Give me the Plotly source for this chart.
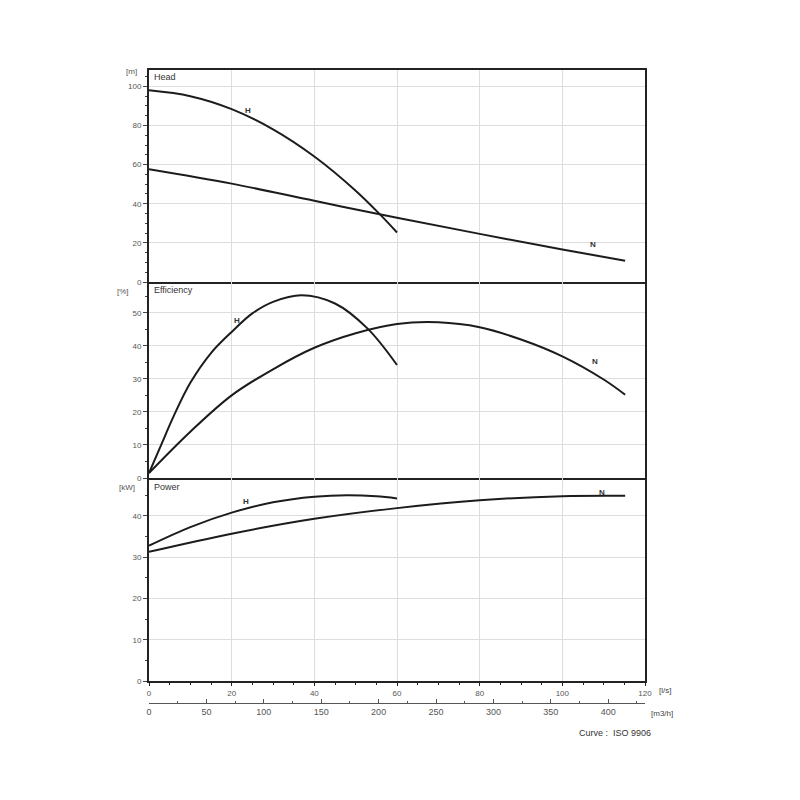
import plotly.graph_objects as go

# ---------------- data (flow in l/s) ----------------
head_H_q = [0, 10, 20, 30, 40, 50, 56, 60]
head_H_v = [98, 95.0, 88.4, 78.1, 64.2, 46.7, 34.3, 25.3]
head_N_q = [0, 20, 40, 60, 80, 100, 115.2]
head_N_v = [57.7, 50.3, 41.5, 32.8, 24.6, 16.6, 10.9]

eff_H_q = [0, 3, 6, 10, 15, 20, 25, 30, 36.9, 45, 52.9, 60]
eff_H_v = [1.5, 10.2, 18.8, 28.8, 37.8, 44.2, 49.8, 53.3, 55.3, 52.8, 45.2, 34.2]
eff_N_q = [0, 10, 20, 30, 40, 50, 60, 70, 80, 90, 100, 110, 115.2]
eff_N_v = [1.5, 14.0, 25.0, 32.9, 39.4, 43.8, 46.6, 47.1, 45.6, 41.9, 36.8, 29.8, 25.2]

pow_H_q = [0, 10, 20, 30, 40, 48, 55, 60]
pow_H_v = [32.8, 37.3, 40.8, 43.3, 44.65, 45.0, 44.75, 44.25]
pow_N_q = [0, 20, 40, 60, 80, 100, 115.2]
pow_N_v = [31.3, 35.7, 39.3, 41.9, 43.8, 44.8, 44.9]

panel_titles = ["Head", "Efficiency", "Power"]
unit_labels = ["[m]", "[%]", "[kW]"]
curve_names = ["H", "N"]

# label anchor points (l/s, value)
label_H = [(24, 87.5), (21.3, 47.8), (23.5, 43.4)]
label_N = [(107.4, 19.2), (108, 35.3), (109.5, 45.8)]

LS_TO_M3H = 3.6
q_max = 120

# ---------------- figure ----------------
line_style = dict(color="#1c1c1c", width=2)
fig = go.Figure()

series = [
    (head_H_q, head_H_v, "x", "y"), (head_N_q, head_N_v, "x", "y"),
    (eff_H_q, eff_H_v, "x2", "y2"), (eff_N_q, eff_N_v, "x2", "y2"),
    (pow_H_q, pow_H_v, "x3", "y3"), (pow_N_q, pow_N_v, "x3", "y3"),
]
for q, v, xa, ya in series:
    fig.add_trace(go.Scatter(x=q, y=v, xaxis=xa, yaxis=ya, mode="lines",
                             line=dict(shape="spline", smoothing=1.0, **line_style),
                             hoverinfo="skip", showlegend=False))

# invisible trace so the m3/h axis is created
fig.add_trace(go.Scatter(x=[q * LS_TO_M3H for q in pow_N_q], y=pow_N_v,
                         xaxis="x4", yaxis="y3", mode="lines", opacity=0,
                         hoverinfo="skip", showlegend=False))

# pixel geometry (window coords) -> figure coords (page body margin 8px)
OFF = 8
top_px, bot_px = 70, 703
H = bot_px - top_px
def py(px):
    return (bot_px - px) / H
L, R = 149, 645
W = R - L
def px_(x):
    return (x - L) / W

dom_head = [py(282), 1.0]
dom_eff = [py(478), py(282)]
dom_pow = [py(681), py(478)]

tickfont = dict(family="Liberation Sans, Arial, sans-serif", size=8, color="#555")
grid = "#dedede"

def xax(anchor, labels, mirror):
    return dict(domain=[0, 1], anchor=anchor, range=[0, q_max], dtick=20,
                showgrid=True, gridcolor=grid, gridwidth=1, zeroline=False,
                showline=True, linecolor="#222", linewidth=2, mirror=mirror,
                showticklabels=labels, ticks="outside" if labels else "",
                ticklen=3, tickcolor="#222", tickfont=tickfont,
                minor=dict(dtick=5, ticks="outside" if labels else "", ticklen=2,
                           tickcolor="#222", showgrid=False))

def yax(anchor, dom, rng, dtick):
    return dict(domain=dom, anchor=anchor, range=rng, dtick=dtick,
                showgrid=True, gridcolor=grid, gridwidth=1, zeroline=False,
                showline=True, linecolor="#222", linewidth=2, mirror=True,
                ticks="outside", ticklen=4, tickcolor="#444", tickfont=tickfont,
                minor=dict(dtick=5, ticks="outside", ticklen=2, tickcolor="#444",
                           showgrid=False))

fig.update_layout(
    width=800, height=800,
    margin=dict(l=L - OFF, r=800 - (R - OFF), t=top_px - OFF, b=800 - (bot_px - OFF), pad=0),
    paper_bgcolor="white", plot_bgcolor="white",
    font=dict(family="Liberation Sans, Arial, sans-serif", color="#333"),
    xaxis=xax("y", False, True),
    xaxis2=xax("y2", False, False),
    xaxis3=xax("y3", True, False),
    xaxis4=dict(overlaying="x3", anchor="free", position=0, side="bottom",
                range=[0, q_max * LS_TO_M3H], dtick=50, showgrid=False,
                zeroline=False, showline=True, linecolor="#555", linewidth=1,
                ticks="inside", ticklen=4, tickcolor="#555",
                tickfont=dict(family="Liberation Sans, Arial, sans-serif", size=9, color="#555"),
                minor=dict(dtick=25, ticks="inside", ticklen=2, tickcolor="#555")),
    yaxis=yax("x", dom_head, [0, 108.4], 20),
    yaxis2=yax("x2", dom_eff, [0, 59.3], 10),
    yaxis3=yax("x3", dom_pow, [0, 49.2], 10),
)

ann = []
title_y = [py(77), py(290), py(487)]
for t, y in zip(panel_titles, title_y):
    ann.append(dict(text=t, xref="paper", yref="paper", x=px_(152), y=y,
                    xanchor="left", yanchor="middle", showarrow=False,
                    font=dict(size=9, color="#333")))
unit_pos = [(131, 71), (123, 291), (127, 487)]
for t, (ux, uy) in zip(unit_labels, unit_pos):
    ann.append(dict(text=t, xref="paper", yref="paper", x=px_(ux), y=py(uy),
                    xanchor="center", yanchor="middle", showarrow=False,
                    font=dict(size=8, color="#555")))
refs = [("x", "y"), ("x2", "y2"), ("x3", "y3")]
for (xr, yr), (hx, hy), (nx, ny) in zip(refs, label_H, label_N):
    for name, (lx, ly) in zip(curve_names, [(hx, hy), (nx, ny)]):
        ann.append(dict(text="<b>%s</b>" % name, xref=xr, yref=yr, x=lx, y=ly,
                        showarrow=False, font=dict(size=8, color="#333")))
ann.append(dict(text="[l/s]", xref="paper", yref="paper", x=px_(657), y=py(690),
                xanchor="left", yanchor="middle", showarrow=False,
                font=dict(size=8, color="#444")))
ann.append(dict(text="[m3/h]", xref="paper", yref="paper", x=px_(649), y=py(713),
                xanchor="left", yanchor="middle", showarrow=False,
                font=dict(size=8, color="#444")))
ann.append(dict(text="Curve :  ISO 9906", xref="paper", yref="paper", x=px_(577), y=py(733),
                xanchor="left", yanchor="middle", showarrow=False,
                font=dict(size=9, color="#333")))
fig.update_layout(annotations=ann)

fig.write_html("out.html")
